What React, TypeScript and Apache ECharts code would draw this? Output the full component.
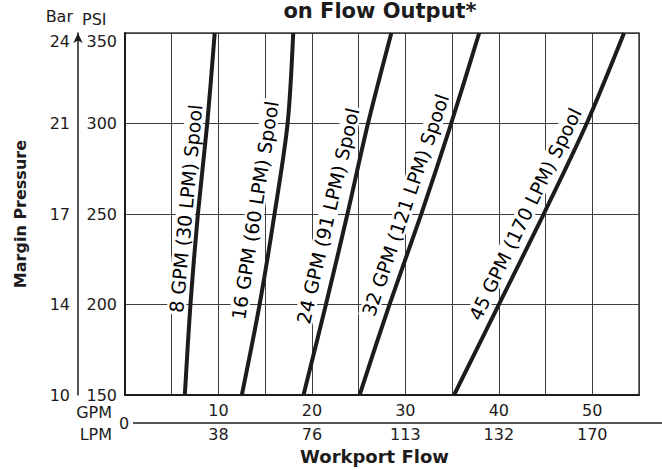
import React, { useEffect, useRef } from 'react';
import * as echarts from 'echarts';

// Pressure levels (PSI) at which each spool curve was read
const psiLevels = [150, 200, 250, 300, 350];
// Matching bar values shown on the outer axis
const barLevels = [10, 14, 17, 21, 24];
// Bottom axis tick labels
const gpmTicks = [10, 20, 30, 40, 50];
const lpmTicks = [38, 76, 113, 132, 170];

const spoolNames = [
  '8 GPM (30 LPM) Spool',
  '16 GPM (60 LPM) Spool',
  '24 GPM (91 LPM) Spool',
  '32 GPM (121 LPM) Spool',
  '45 GPM (170 LPM) Spool',
];

// Workport flow (GPM) at each pressure level, per spool
const flow8 = [6.4, 7.0, 7.8, 8.8, 9.6];
const flow16 = [12.5, 14.4, 16.0, 17.4, 18.0];
const flow24 = [19.1, 21.5, 23.8, 26.0, 28.5];
const flow32 = [25.1, 28.3, 31.7, 34.9, 37.9];
const flow45 = [35.2, 40.0, 44.8, 49.4, 53.4];

// Where each spool label sits (GPM, PSI)
const labelGpm = [6.5, 13.9, 21.7, 30.0, 42.8];
const labelPsi = [253, 252, 249, 255, 250];

const INK = '#1e1b1c';
const GRIDC = '#3d3d3d';
const FONT = 'DejaVu Sans';

export default function App() {
  const ref = useRef<HTMLDivElement>(null);

  useEffect(() => {
    const chart = echarts.init(ref.current as HTMLDivElement, null, { renderer: 'svg' });
    const flows = [flow8, flow16, flow24, flow32, flow45];

    const lineSeries = flows.map((f, i) => ({
      type: 'line',
      name: spoolNames[i],
      xAxisIndex: 0,
      yAxisIndex: 0,
      data: f.map((g, j) => [g, psiLevels[j]]),
      showSymbol: false,
      symbol: 'none',
      smooth: 0.3,
      silent: true,
      z: 5,
      lineStyle: { color: INK, width: 4 },
    }));

    const labelSeries = (rot: number[]) => ({
      type: 'scatter',
      name: 'labels',
      xAxisIndex: 0,
      yAxisIndex: 0,
      symbolSize: 0,
      silent: true,
      z: 3,
      data: labelGpm.map((g, i) => ({
        value: [g, labelPsi[i]],
        label: { show: true, formatter: spoolNames[i], rotate: rot[i] },
      })),
      label: {
        show: true,
        position: 'inside',
        color: '#000000',
        opacity: 1,
        fontFamily: FONT,
        fontSize: 19,
        backgroundColor: '#ffffff',
        padding: [0, 2],
      },
    });

    const lookup = (ticks: number[], labels: number[]) => (v: number) => {
      const k = ticks.indexOf(v);
      return k >= 0 ? String(labels[k]) : '';
    };

    const option: any = {
      animation: false,
      backgroundColor: '#ffffff',
      textStyle: { fontFamily: FONT, color: INK },
      grid: {
        left: 125,
        right: 23,
        top: 33,
        bottom: 74,
        show: true,
        borderColor: GRIDC,
        borderWidth: 1.5,
        backgroundColor: 'transparent',
      },
      xAxis: [
        {
          type: 'value',
          min: 0,
          max: 55,
          interval: 5,
          position: 'bottom',
          axisLine: { show: true, onZero: false, lineStyle: { color: INK, width: 2 } },
          axisTick: { show: false },
          axisLabel: { show: false },
          splitLine: { show: true, lineStyle: { color: GRIDC, width: 1 } },
        },
        {
          type: 'value',
          min: 0,
          max: 55,
          interval: 10,
          position: 'bottom',
          offset: 27,
          axisLine: { show: false },
          axisTick: { show: false },
          splitLine: { show: false },
          axisLabel: {
            inside: true,
            margin: 4,
            fontSize: 16,
            fontFamily: FONT,
            color: INK,
            formatter: lookup(gpmTicks, gpmTicks),
          },
        },
        {
          type: 'value',
          min: 0,
          max: 55,
          interval: 10,
          position: 'bottom',
          offset: 27,
          axisLine: { show: false },
          axisTick: { show: false },
          splitLine: { show: false },
          axisLabel: {
            margin: 4,
            fontSize: 16,
            fontFamily: FONT,
            color: INK,
            formatter: lookup(gpmTicks, lpmTicks),
          },
          name: 'Workport Flow',
          nameLocation: 'middle',
          nameGap: 24,
          nameTextStyle: {
            fontFamily: FONT,
            fontWeight: 'bold',
            fontSize: 18,
            color: INK,
            padding: [0, 15, 0, 0],
          },
        },
      ],
      yAxis: [
        {
          type: 'value',
          min: 150,
          max: 350,
          interval: 50,
          position: 'left',
          axisLine: { show: true, onZero: false, lineStyle: { color: INK, width: 2 } },
          axisTick: { show: false },
          splitLine: { show: true, lineStyle: { color: GRIDC, width: 1 } },
          axisLabel: {
            margin: 8,
            fontSize: 16,
            fontFamily: FONT,
            color: INK,
            verticalAlignMaxLabel: 'top',
          },
        },
        {
          type: 'value',
          min: 150,
          max: 350,
          interval: 50,
          position: 'left',
          offset: 47,
          axisLine: {
            show: true,
            onZero: false,
            symbol: ['none', 'arrow'],
            symbolSize: [7, 10],
            lineStyle: { color: INK, width: 1.5 },
          },
          axisTick: { show: false },
          splitLine: { show: false },
          axisLabel: {
            margin: 8,
            fontSize: 16,
            fontFamily: FONT,
            color: INK,
            verticalAlignMaxLabel: 'top',
            formatter: lookup(psiLevels, barLevels),
          },
          name: 'Margin Pressure',
          nameLocation: 'middle',
          nameRotate: 90,
          nameGap: 50,
          nameTextStyle: { fontFamily: FONT, fontWeight: 'bold', fontSize: 16, color: INK },
        },
      ],
      graphic: [
        {
          type: 'text',
          x: 380,
          y: 11,
          style: {
            text: 'on Flow Output*',
            fontFamily: FONT,
            fontWeight: 'bold',
            fontSize: 21,
            fill: INK,
            textAlign: 'center',
            textVerticalAlign: 'middle',
          },
        },
        {
          type: 'text',
          x: 73,
          y: 16,
          style: { text: 'Bar', fontFamily: FONT, fontSize: 16, fill: INK, textAlign: 'right', textVerticalAlign: 'middle' },
        },
        {
          type: 'text',
          x: 82,
          y: 19,
          style: { text: 'PSI', fontFamily: FONT, fontSize: 16, fill: INK, textAlign: 'left', textVerticalAlign: 'middle' },
        },
        {
          type: 'text',
          x: 112,
          y: 412,
          style: { text: 'GPM', fontFamily: FONT, fontSize: 16, fill: INK, textAlign: 'right', textVerticalAlign: 'middle' },
        },
        {
          type: 'text',
          x: 112,
          y: 434,
          style: { text: 'LPM', fontFamily: FONT, fontSize: 16, fill: INK, textAlign: 'right', textVerticalAlign: 'middle' },
        },
        {
          type: 'text',
          x: 124,
          y: 423,
          style: { text: '0', fontFamily: FONT, fontSize: 16, fill: INK, textAlign: 'center', textVerticalAlign: 'middle' },
        },
        {
          type: 'line',
          shape: { x1: 133, y1: 423, x2: 662, y2: 423 },
          style: { stroke: INK, lineWidth: 1.5 },
        },
      ],
      series: [...lineSeries, labelSeries([0, 0, 0, 0, 0])],
    };

    chart.setOption(option);

    // Rotate each label along its curve (segment 200 -> 300 PSI)
    const rot = flows.map((f) => {
      const p0 = chart.convertToPixel({ gridIndex: 0 }, [f[1], psiLevels[1]]) as number[];
      const p1 = chart.convertToPixel({ gridIndex: 0 }, [f[3], psiLevels[3]]) as number[];
      return (Math.atan2(p0[1] - p1[1], p1[0] - p0[0]) * 180) / Math.PI;
    });
    chart.setOption({ series: [...lineSeries, labelSeries(rot)] });

    return () => {
      chart.dispose();
    };
  }, []);

  return (
    <div
      ref={ref}
      style={{ position: 'absolute', left: 0, top: 0, width: 662, height: 470 }}
    />
  );
}
